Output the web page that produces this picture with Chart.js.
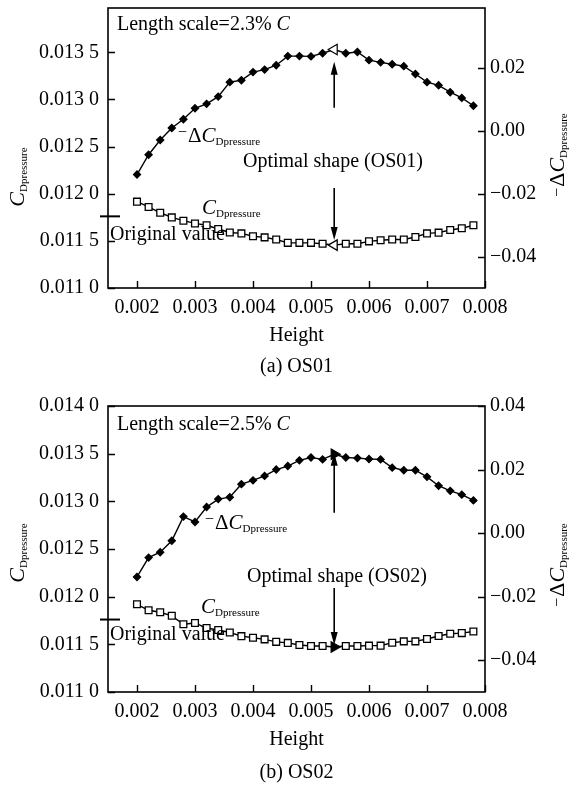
<!DOCTYPE html>
<html><head><meta charset="utf-8">
<script src="https://cdn.jsdelivr.net/npm/chart.js@4/dist/chart.umd.min.js"></script>
<style>
html,body{margin:0;padding:0;background:#fff;width:570px;height:789px;overflow:hidden}
.c{position:absolute;left:0;width:570px}
canvas{display:block}
</style></head><body>
<div class="c" style="top:0;height:395px"><canvas id="ca" width="570" height="395"></canvas></div>
<div class="c" style="top:395px;height:394px"><canvas id="cb" width="570" height="394"></canvas></div>
<script>
// ---------- data ----------
const heights = [0.0020,0.0022,0.0024,0.0026,0.0028,0.0030,0.0032,0.0034,0.0036,0.0038,
                 0.0040,0.0042,0.0044,0.0046,0.0048,0.0050,0.0052,0.0054,0.0056,0.0058,
                 0.0060,0.0062,0.0064,0.0066,0.0068,0.0070,0.0072,0.0074,0.0076,0.0078];
const negDeltaCD_OS01 = [-0.0139,-0.0076,-0.0029,0.0009,0.0037,0.0072,0.0086,0.0109,0.0155,0.0161,
                         0.0187,0.0195,0.0209,0.0238,0.0238,0.0237,0.0247,0.0259,0.0247,0.0251,
                         0.0225,0.0218,0.0212,0.0206,0.0181,0.0155,0.0145,0.0123,0.0105,0.0080];
const cdPressure_OS01 = [0.011916,0.011860,0.011798,0.011749,0.011714,0.011685,0.011665,0.011626,0.011589,0.011579,
                         0.011549,0.011537,0.011514,0.011479,0.011479,0.011479,0.011470,0.011455,0.011470,0.011470,
                         0.011495,0.011507,0.011514,0.011514,0.011541,0.011579,0.011587,0.011615,0.011634,0.011665];
const negDeltaCD_OS02 = [-0.0138,-0.0077,-0.0060,-0.0024,0.0052,0.0035,0.0082,0.0107,0.0113,0.0154,
                         0.0166,0.0180,0.0200,0.0211,0.0229,0.0238,0.0232,0.0248,0.0238,0.0236,
                         0.0233,0.0232,0.0206,0.0198,0.0198,0.0177,0.0149,0.0133,0.0121,0.0103];
const cdPressure_OS02 = [0.011920,0.011857,0.011836,0.011799,0.011710,0.011724,0.011671,0.011650,0.011624,0.011586,
                         0.011569,0.011552,0.011526,0.011515,0.011493,0.011483,0.011483,0.011472,0.011483,0.011483,
                         0.011486,0.011486,0.011517,0.011531,0.011531,0.011556,0.011587,0.011611,0.011618,0.011635];
const originalValue = [0.01176, 0.01176];
const optimalIndex = 17;          // height 0.0054
const xTicks = [0.002,0.003,0.004,0.005,0.006,0.007,0.008];
const leftTicks = [0.011,0.0115,0.012,0.0125,0.013,0.0135,0.014];
const rightTicks = [-0.04,-0.02,0.00,0.02,0.04];
const lengthScales = ['2.3%','2.5%'];
const panelNames = ['OS01','OS02'];
const captions = ['(a) OS01','(b) OS02'];

// ---------- drawing helpers ----------
const SERIF = "'Liberation Serif','Times New Roman',serif";
function drawParts(ctx, parts, x, y){
  let cx = x;
  for(const p of parts){
    ctx.font = (p.italic?'italic ':'') + p.size + 'px ' + SERIF;
    ctx.fillText(p.t, cx, y + (p.dy||0));
    cx += ctx.measureText(p.t).width + (p.gap||0);
  }
  return cx - x;
}
function partsWidth(ctx, parts){
  let w=0;
  for(const p of parts){ ctx.font=(p.italic?'italic ':'')+p.size+'px '+SERIF; w+=ctx.measureText(p.t).width+(p.gap||0);} return w;
}
function drawRotated(ctx, parts, cx, cy){
  ctx.save();
  ctx.translate(cx, cy);
  ctx.rotate(-Math.PI/2);
  const w = partsWidth(ctx, parts);
  ctx.textBaseline='middle';
  drawParts(ctx, parts, -w/2, 0);
  ctx.restore();
}
function arrow(ctx, x, y0, y1){
  const dir = y1 < y0 ? -1 : 1;
  ctx.beginPath(); ctx.moveTo(x, y0); ctx.lineTo(x, y1 - dir*10); ctx.lineWidth=1.6; ctx.stroke();
  ctx.beginPath(); ctx.moveTo(x, y1); ctx.lineTo(x-3.5, y1 - dir*13); ctx.lineTo(x+3.5, y1 - dir*13); ctx.closePath(); ctx.fill();
}

function fmtLeft(v){ const s=v.toFixed(4); return s.slice(0,5)+' '+s.slice(5); }
function fmtRight(v){ const s=Math.abs(v).toFixed(2); return (v< -1e-9?'\u2212':'')+s; }

function makeChart(id, idx, deltaArr, cdArr, cfg){
  const dStyle = heights.map((h,i)=> i===optimalIndex?'triangle':'rectRot');
  const dRot = heights.map((h,i)=> i===optimalIndex?cfg.rot:0);
  const dRad = heights.map((h,i)=> i===optimalIndex?6:3.6);
  const dFill = heights.map((h,i)=> i===optimalIndex?cfg.triFill:'#000');
  const cStyle = heights.map((h,i)=> i===optimalIndex?'triangle':'rect');
  const cRot = dRot;
  const cRad = heights.map((h,i)=> i===optimalIndex?6:4.8);
  const cFill = heights.map((h,i)=> i===optimalIndex?cfg.triFill:'#fff');

  const annot = {
    id:'annot',
    afterDraw(chart){
      const ctx = chart.ctx, a = chart.chartArea;
      const xs = chart.scales.x, yl = chart.scales.yL, yr = chart.scales.yR;
      ctx.save();
      ctx.strokeStyle='#000'; ctx.fillStyle='#000';
      ctx.lineWidth=1.6;
      ctx.strokeRect(a.left, a.top, a.right-a.left, a.bottom-a.top);
      ctx.lineWidth=1.4;
      ctx.beginPath();
      for(const t of yl.ticks){ const y=Math.round(yl.getPixelForValue(t.value))+0.5; ctx.moveTo(a.left,y); ctx.lineTo(a.left+7,y); }
      for(const t of yr.ticks){ const y=Math.round(yr.getPixelForValue(t.value))+0.5; ctx.moveTo(a.right,y); ctx.lineTo(a.right-7,y); }
      for(const t of xs.ticks){ const x=Math.round(xs.getPixelForValue(t.value))+0.5; ctx.moveTo(x,a.bottom); ctx.lineTo(x,a.bottom-7); }
      ctx.stroke();
      const oy = yl.getPixelForValue(originalValue[idx]);
      ctx.lineWidth=2;
      ctx.beginPath(); ctx.moveTo(a.left-8, oy); ctx.lineTo(a.left+12, oy); ctx.stroke();
      const ox = xs.getPixelForValue(heights[optimalIndex]);
      arrow(ctx, ox, yl.getPixelForValue(cfg.upArrow[0]), yl.getPixelForValue(cfg.upArrow[1]));
      arrow(ctx, ox, yl.getPixelForValue(cfg.downArrow[0]), yl.getPixelForValue(cfg.downArrow[1]));
      ctx.textBaseline='middle'; ctx.textAlign='left';
      drawParts(ctx, [{t:'Length scale='+lengthScales[idx]+' ', size:20},{t:'C', size:20, italic:true}], cfg.len[0], cfg.len[1]);
      drawParts(ctx, [{t:'Optimal shape ('+panelNames[idx]+')', size:20}], cfg.opt[0], cfg.opt[1]);
      drawParts(ctx, [{t:'Original value', size:20}], cfg.orig[0], cfg.orig[1]);
      drawParts(ctx, [{t:'\u2212', size:16, dy:-3, gap:1},{t:'\u0394', size:21},{t:'C', size:21, italic:true},{t:'Dpressure', size:11, dy:6}], cfg.dlab[0], cfg.dlab[1]);
      drawParts(ctx, [{t:'C', size:21, italic:true},{t:'Dpressure', size:11, dy:6}], cfg.clab[0], cfg.clab[1]);
      drawRotated(ctx, [{t:'C', size:22, italic:true},{t:'Dpressure', size:11, dy:6}], 18, cfg.ltitle);
      drawRotated(ctx, [{t:'\u2212', size:16, gap:1},{t:'\u0394', size:22},{t:'C', size:22, italic:true},{t:'Dpressure', size:11, dy:6}], 558, cfg.rtitle);
      ctx.textAlign='center';
      ctx.font='20px '+SERIF;
      const mid=(a.left+a.right)/2;
      ctx.fillText('Height', mid, cfg.xtitle);
      ctx.fillText(captions[idx], mid, cfg.cap);
      ctx.restore();
    }
  };

  const fixTicks = vals => s => { s.ticks = vals.filter(v=> v>=s.min-1e-9 && v<=s.max+1e-9).map(v=>({value:v})); };
  const noPadY = w => s => { s.width = w; s.paddingTop = 0; s.paddingBottom = 0; };

  return new Chart(document.getElementById(id), {
    type:'scatter',
    data:{ datasets:[
      { label:'-dCD', yAxisID:'yR', showLine:true,
        data: heights.map((h,i)=>({x:h, y:deltaArr[i]})),
        borderColor:'#000', borderWidth:1.4, pointStyle:dStyle, pointRotation:dRot,
        pointRadius:dRad, pointBackgroundColor:dFill, pointBorderColor:'#000', pointBorderWidth:1.2 },
      { label:'CD', yAxisID:'yL', showLine:true,
        data: heights.map((h,i)=>({x:h, y:cdArr[i]})),
        borderColor:'#000', borderWidth:1.4, pointStyle:cStyle, pointRotation:cRot,
        pointRadius:cRad, pointBackgroundColor:cFill, pointBorderColor:'#000', pointBorderWidth:1.3 }
    ]},
    options:{
      responsive:false, animation:false, devicePixelRatio:1,
      layout:{ padding:{ top:cfg.padTop, left:0, right:0, bottom:0 } },
      plugins:{ legend:{display:false}, tooltip:{enabled:false} },
      scales:{
        x:{ type:'linear', min:0.0015, max:0.008, position:'bottom',
            afterBuildTicks: fixTicks(xTicks),
            afterFit: s=>{ s.height = cfg.xH; s.paddingLeft = 0; s.paddingRight = 0; },
            grid:{ display:false, drawTicks:false }, border:{display:false},
            ticks:{ color:'#000', font:{family:SERIF, size:20}, padding:cfg.xPad, maxRotation:0, autoSkip:false,
                    callback:v=>Number(v).toFixed(3) } },
        yL:{ type:'linear', position:'left', min:0.011, max:cfg.lMax,
            afterBuildTicks: fixTicks(leftTicks),
            afterFit: noPadY(108),
            grid:{ display:false, drawTicks:false }, border:{display:false},
            ticks:{ color:'#000', font:{family:SERIF, size:20}, padding:9, autoSkip:false, callback:v=>fmtLeft(v) } },
        yR:{ type:'linear', position:'right', min:-0.05, max:cfg.rMax,
            afterBuildTicks: fixTicks(rightTicks),
            afterFit: noPadY(85),
            grid:{ display:false, drawTicks:false }, border:{display:false},
            ticks:{ color:'#000', font:{family:SERIF, size:20}, padding:5, autoSkip:false, callback:v=>fmtRight(v) } }
      }
    },
    plugins:[annot]
  });
}

makeChart('ca', 0, negDeltaCD_OS01, cdPressure_OS01, {
  rot:-90, triFill:'#fff', padTop:8, xH:107, xPad:8, lMax:0.01397, rMax:0.0391,
  upArrow:[0.012911, 0.013399], downArrow:[0.012062, 0.011510],
  len:[117,25], opt:[243,162], orig:[110,235], dlab:[178,136], clab:[202,208],
  ltitle:177, rtitle:155, xtitle:336, cap:367
});
makeChart('cb', 1, negDeltaCD_OS02, cdPressure_OS02, {
  rot:90, triFill:'#000', padTop:11, xH:97, xPad:8, lMax:0.014, rMax:0.04,
  upArrow:[0.012880, 0.013510], downArrow:[0.012092, 0.011494],
  len:[117,30], opt:[247,182], orig:[110,240], dlab:[205,128], clab:[201,212],
  ltitle:158, rtitle:170, xtitle:345, cap:378
});
</script>
</body></html>
